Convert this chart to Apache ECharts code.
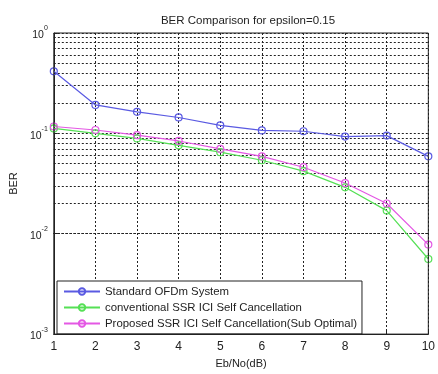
<!DOCTYPE html>
<html>
<head>
<meta charset="utf-8">
<script src="https://cdn.jsdelivr.net/npm/echarts@6/dist/echarts.min.js"></script>
<style>
  html, body { margin: 0; padding: 0; background: #fff; }
  #chart { width: 438px; height: 374px; }
</style>
</head>
<body>
<div id="chart"></div>
<script>
// Eb/No points and BER curves
const ebno = [1, 2, 3, 4, 5, 6, 7, 8, 9, 10];
const berStandard = [0.415, 0.192, 0.164, 0.144, 0.12, 0.107, 0.105, 0.093, 0.095, 0.059];
const berConventional = [0.112, 0.1, 0.089, 0.076, 0.065, 0.054, 0.042, 0.029, 0.017, 0.0056];
const berProposed = [0.117, 0.108, 0.096, 0.084, 0.07, 0.059, 0.046, 0.032, 0.02, 0.0078];
// minor grid lines of the log axis (2..9 in each decade)
const minorTicks = [
  0.002, 0.003, 0.004, 0.005, 0.006, 0.007, 0.008, 0.009,
  0.02, 0.03, 0.04, 0.05, 0.06, 0.07, 0.08, 0.09,
  0.2, 0.3, 0.4, 0.5, 0.6, 0.7, 0.8, 0.9
];

const font = 'Liberation Sans, Arial, sans-serif';
const gridDots = { color: '#222', type: [2, 2], width: 1 };

const myChart = echarts.init(document.getElementById('chart'));

const mkSeries = (name, color, data) => ({
  name: name,
  type: 'line',
  data: ebno.map((x, i) => [x, data[i]]),
  symbol: 'circle',
  symbolSize: 7,
  showSymbol: true,
  lineStyle: { color: color, width: 1.2 },
  itemStyle: { color: 'rgba(255,255,255,0)', borderColor: color, borderWidth: 1.2 },
  z: 5
});

const option = {
  animation: false,
  backgroundColor: '#fff',
  title: {
    text: 'BER Comparison for epsilon=0.15',
    left: 243,
    textAlign: 'center',
    top: 10,
    textStyle: { fontFamily: font, fontSize: 11.5, fontWeight: 'normal', color: '#222' }
  },
  legend: {
    orient: 'vertical',
    left: 57,
    top: 281,
    itemWidth: 36,
    itemHeight: 8,
    itemGap: 5,
    padding: [5, 5, 5, 6],
    borderColor: '#222',
    borderWidth: 1,
    backgroundColor: '#fff',
    textStyle: { fontFamily: font, fontSize: 11.4, color: '#222' },
    data: [
      'Standard OFDm System',
      'conventional SSR ICI Self Cancellation',
      'Proposed SSR ICI Self Cancellation(Sub Optimal)'
    ]
  },
  grid: { left: 53, right: 3, top: 33, bottom: 34 },
  xAxis: {
    type: 'value',
    min: 1,
    max: 10,
    interval: 1,
    name: 'Eb/No(dB)',
    nameLocation: 'middle',
    nameGap: 22,
    nameTextStyle: { fontFamily: font, fontSize: 11, color: '#222' },
    axisLine: { show: true, lineStyle: { color: '#222', width: 1 } },
    axisTick: { show: true, inside: true, length: 4, lineStyle: { color: '#222' } },
    axisLabel: { fontFamily: font, fontSize: 12, color: '#222', margin: 7 },
    splitLine: { show: true, lineStyle: gridDots }
  },
  yAxis: {
    type: 'log',
    min: 0.001,
    max: 1,
    logBase: 10,
    name: 'BER',
    nameLocation: 'middle',
    nameGap: 28,
    nameTextStyle: { fontFamily: font, fontSize: 11, color: '#222' },
    axisLine: { show: true, lineStyle: { color: '#222', width: 1 } },
    axisTick: { show: true, inside: true, length: 4, lineStyle: { color: '#222' } },
    axisLabel: {
      fontFamily: font,
      color: '#222',
      margin: 6,
      formatter: function (v) {
        const e = Math.round(Math.log10(v));
        return '{b|10}{s|' + e + '}';
      },
      rich: {
        b: { fontFamily: font, fontSize: 10.5, color: '#222', lineHeight: 16, verticalAlign: 'bottom' },
        s: { fontFamily: font, fontSize: 7, color: '#222', verticalAlign: 'top', lineHeight: 16 }
      }
    },
    splitLine: { show: true, lineStyle: gridDots }
  },
  series: [
    mkSeries('Standard OFDm System', '#5a5ae2', berStandard),
    mkSeries('conventional SSR ICI Self Cancellation', '#55e055', berConventional),
    mkSeries('Proposed SSR ICI Self Cancellation(Sub Optimal)', '#e458e4', berProposed),
    {
      name: 'minor',
      type: 'line',
      data: [],
      silent: true,
      markLine: {
        silent: true,
        symbol: 'none',
        label: { show: false },
        lineStyle: gridDots,
        data: minorTicks.map(v => ({ yAxis: v }))
      },
      z: 1
    }
  ]
};

myChart.setOption(option, true);

// frame: top and right border of the plot box
const gr = myChart.getModel().getComponent('grid').coordinateSystem.getRect();
myChart.setOption({
  graphic: [{
    type: 'rect',
    shape: { x: gr.x, y: gr.y, width: gr.width, height: gr.height },
    style: { fill: 'none', stroke: '#222', lineWidth: 1 },
    silent: true,
    z: 10
  }]
});
</script>
</body>
</html>
